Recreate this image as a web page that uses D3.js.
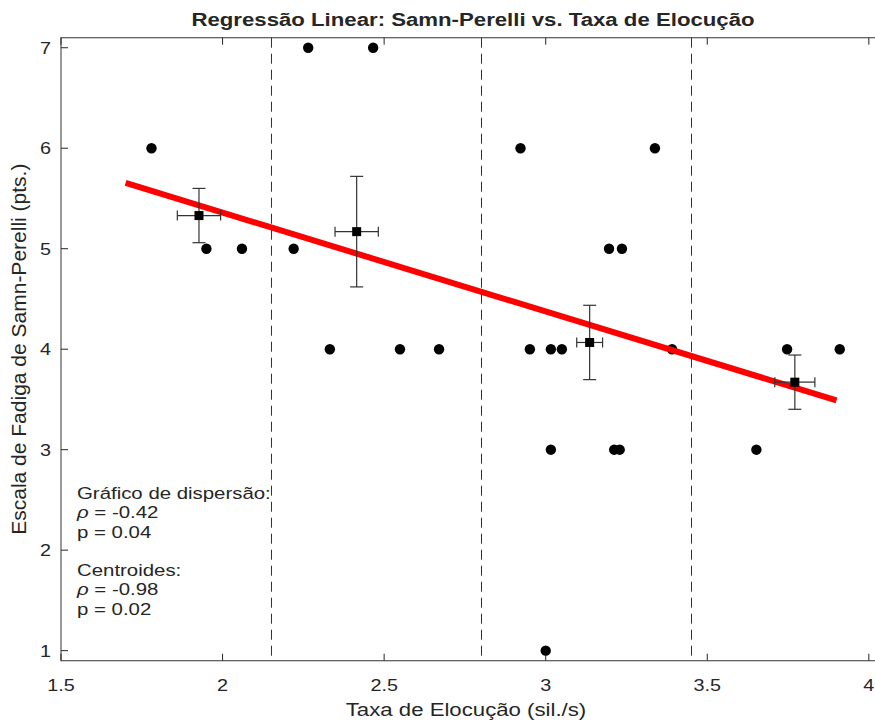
<!DOCTYPE html>
<html>
<head>
<meta charset="utf-8">
<script src="https://cdn.jsdelivr.net/npm/d3@7"></script>
<style>
  body { margin: 0; background: #fff; overflow: hidden; }
  svg text { font-family: Helvetica, Arial, "Liberation Sans", sans-serif; fill: #262626; }
</style>
</head>
<body>
<div id="chart"></div>
<script>
// raw points (taxa de elocução, Samn-Perelli)
const rate = [1.78, 1.95, 2.06, 2.22, 2.265, 2.332, 2.466, 2.549, 2.67,
              2.922, 2.951, 3.0, 3.016, 3.016, 3.05, 3.196, 3.212, 3.229, 3.236, 3.338, 3.391,
              3.652, 3.747, 3.91];
const fatigue = [6, 5, 5, 5, 7, 4, 7, 4, 4,
                 6, 4, 1, 4, 3, 4, 5, 3, 3, 5, 6, 4,
                 3, 4, 4];

// group boundaries (dashed lines)
const splits = [2.15, 2.80, 3.45];

// centroids per group + error bars
const centX = [1.927, 2.415, 3.136, 3.771];
const centY = [5.33, 5.17, 4.067, 3.672];
const errX = [0.067, 0.067, 0.040, 0.062];
const errY = [0.27, 0.55, 0.37, 0.27];

// regression line endpoints
const fitX = [1.70, 3.90];
const fitY = [5.655, 3.49];

const xTicks = [1.5, 2, 2.5, 3, 3.5, 4];
const yTicks = [1, 2, 3, 4, 5, 6, 7];

const stats = ["Gráfico de dispersão:", "ρ| = -0.42", "p = 0.04", "", "Centroides:", "ρ| = -0.98", "p = 0.02"];

let width = 875, height = 722;
let margin = { top: 37.7, right: -10, bottom: 61.3, left: 61 };
let stretch = 1.2; // text in the picture is wider than it is tall

let x = d3.scaleLinear().domain([1.5, 4.05]).range([margin.left, width - margin.right]);
let y = d3.scaleLinear().domain([0.9, 7.1]).range([height - margin.bottom, margin.top]);

let svg = d3.select("#chart").append("svg")
    .attr("width", width).attr("height", height);

// helper: place text with horizontal stretch
function label(g, px, py, str, size, anchor){
    return g.append("text")
        .attr("transform", "translate(" + px + "," + py + ") scale(" + stretch + ",1)")
        .attr("text-anchor", anchor || "start")
        .attr("font-size", size)
        .text(str);
}

let x0 = x.range()[0], x1 = x.range()[1], y0 = y.range()[0], y1 = y.range()[1];
let axisColor = "#555", tickLen = 7;

// box
svg.append("rect")
    .attr("x", x0).attr("y", y1).attr("width", x1 - x0).attr("height", y0 - y1)
    .attr("fill", "none").attr("stroke", axisColor).attr("stroke-width", 1.2);

// ticks inward, all four sides
let tk = svg.append("g").attr("stroke", "#262626").attr("stroke-width", 1);
xTicks.forEach(t => {
    tk.append("line").attr("x1", x(t)).attr("x2", x(t)).attr("y1", y0).attr("y2", y0 - tickLen);
    tk.append("line").attr("x1", x(t)).attr("x2", x(t)).attr("y1", y1).attr("y2", y1 + tickLen);
});
yTicks.forEach(t => {
    tk.append("line").attr("x1", x0).attr("x2", x0 + tickLen).attr("y1", y(t)).attr("y2", y(t));
    tk.append("line").attr("x1", x1).attr("x2", x1 - tickLen).attr("y1", y(t)).attr("y2", y(t));
});

// tick labels
xTicks.forEach(t => label(svg, x(t), y0 + 30, t, 16.5, "middle"));
yTicks.forEach(t => label(svg, x0 - 10, y(t) + 6, t, 16.5, "end"));

// axis titles
label(svg, 466, 716, "Taxa de Elocução (sil./s)", 18.5, "middle");
svg.append("text")
    .attr("transform", "translate(26," + y(4) + ") rotate(-90) scale(" + stretch + "," + stretch + ")")
    .attr("text-anchor", "middle").attr("font-size", 17.5)
    .text("Escala de Fadiga de Samn-Perelli (pts.)");

// title
label(svg, 473, 26, "Regressão Linear: Samn-Perelli vs. Taxa de Elocução", 18.5, "middle")
    .attr("font-weight", "bold").attr("fill", "#000");

// dashed dividers
svg.selectAll(".split").data(splits).enter().append("line")
    .attr("class", "split")
    .attr("x1", d => Math.round(x(d)) + 0.5).attr("x2", d => Math.round(x(d)) + 0.5)
    .attr("y1", y1).attr("y2", y0)
    .attr("stroke", "#333").attr("stroke-width", 1)
    .attr("stroke-dasharray", "10,6");

// scatter points
let pts = rate.map((r, i) => ({ x: r, y: fatigue[i] }));
svg.selectAll(".pt").data(pts).enter().append("circle")
    .attr("class", "pt")
    .attr("cx", d => x(d.x)).attr("cy", d => y(d.y))
    .attr("r", 5.2).attr("fill", "#000");

// regression line
svg.append("line")
    .attr("x1", x(fitX[0])).attr("y1", y(fitY[0]))
    .attr("x2", x(fitX[1])).attr("y2", y(fitY[1]))
    .attr("stroke", "#f00").attr("stroke-width", 6);

// centroids with error bars
let cents = centX.map((cx, i) => ({ x: cx, y: centY[i], ex: errX[i], ey: errY[i] }));
let cg = svg.selectAll(".cent").data(cents).enter().append("g")
    .attr("class", "cent").attr("stroke", "#333").attr("stroke-width", 1.2);
cg.append("line")
    .attr("x1", d => x(d.x)).attr("x2", d => x(d.x))
    .attr("y1", d => y(d.y + d.ey)).attr("y2", d => y(d.y - d.ey));
cg.append("line")
    .attr("x1", d => x(d.x) - 6.5).attr("x2", d => x(d.x) + 6.5)
    .attr("y1", d => y(d.y + d.ey)).attr("y2", d => y(d.y + d.ey));
cg.append("line")
    .attr("x1", d => x(d.x) - 6.5).attr("x2", d => x(d.x) + 6.5)
    .attr("y1", d => y(d.y - d.ey)).attr("y2", d => y(d.y - d.ey));
cg.append("line")
    .attr("x1", d => x(d.x - d.ex)).attr("x2", d => x(d.x + d.ex))
    .attr("y1", d => y(d.y)).attr("y2", d => y(d.y));
cg.append("line")
    .attr("x1", d => x(d.x - d.ex)).attr("x2", d => x(d.x - d.ex))
    .attr("y1", d => y(d.y) - 5).attr("y2", d => y(d.y) + 5);
cg.append("line")
    .attr("x1", d => x(d.x + d.ex)).attr("x2", d => x(d.x + d.ex))
    .attr("y1", d => y(d.y) - 5).attr("y2", d => y(d.y) + 5);
cg.append("rect")
    .attr("x", d => x(d.x) - 4.5).attr("y", d => y(d.y) - 4.5)
    .attr("width", 9).attr("height", 9)
    .attr("fill", "#000").attr("stroke", "none");

// stats text block
let st = svg.append("text")
    .attr("transform", "translate(77,499) scale(" + stretch + ",1)")
    .attr("font-size", 17).attr("fill", "#000");
stats.forEach((s, i) => {
    let line = st.append("tspan").attr("x", 0).attr("y", i * 19.3);
    if (s.includes("|")) {
        let parts = s.split("|");
        line.append("tspan").attr("font-style", "italic").text(parts[0]);
        line.append("tspan").text(parts[1]);
    } else {
        line.text(s);
    }
});
</script>
</body>
</html>
